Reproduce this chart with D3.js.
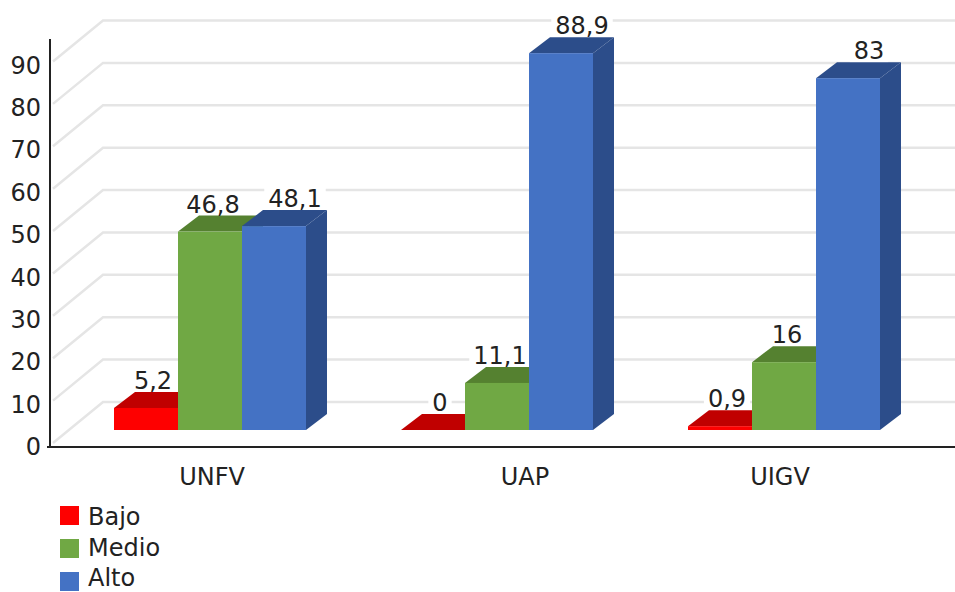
<!DOCTYPE html>
<html lang="es">

<head>
    <meta charset="UTF-8">
    <title>Bajo, Medio, Alto</title>
    <script src="https://d3js.org/d3.v7.min.js"></script>
    <style>
        html, body { margin: 0; padding: 0; background: #fff; }
        svg { display: block; }
        text { font-family: 'DejaVu Sans', Verdana, sans-serif; font-size: 24px; fill: #222; }
        .domain { display: none; }
    </style>
</head>

<body>
    <svg id="chart" width="955" height="592"></svg>
    <script>
        const categories = ["UNFV", "UAP", "UIGV"];
        const seriesNames = ["Bajo", "Medio", "Alto"];
        const bajo = [5.2, 0, 0.9];
        const medio = [46.8, 11.1, 16];
        const alto = [48.1, 88.9, 83];
        const yTicks = [0, 10, 20, 30, 40, 50, 60, 70, 80, 90];

        const seriesValues = [bajo, medio, alto];
        const frontColors = ["#fe0000", "#70a844", "#4472c4"];
        const darkColors = ["#c00000", "#558130", "#2c4d8a"];

        const fmt = v => String(v).replace(".", ",");
        const chart = d3.select("#chart");

        // bars stand on y = 430, the wall is further back, the axis further front
        const scaleY = d3.scaleLinear().domain([0, 90]).range([430, 48.5]);
        const groupX = d3.scalePoint().domain(categories).range([114, 688]);
        const barX = d3.scaleBand().domain(seriesNames).range([0, 192]);

        const depthX = 21, depthY = 16;
        const wallX = 103, wallDY = -28, floorX = 53, floorDY = 13;
        const axisX = 50, axisDY = 17;
        const labelShift = [7, 3, 21];
        const categoryLabelX = [212, 525, 780];

        // walls
        const grid = chart.append("g")
            .attr("fill", "none")
            .attr("stroke", "#e5e5e5")
            .attr("stroke-width", 2.5);
        grid.selectAll("path")
            .data(yTicks)
            .enter()
            .append("path")
            .attr("d", d => `M${floorX},${scaleY(d) + floorDY}L${wallX},${scaleY(d) + wallDY}L955,${scaleY(d) + wallDY}`);

        const halos = chart.append("g");

        // bars
        const bars = [];
        categories.forEach((c, i) => {
            seriesNames.forEach((s, j) => {
                bars.push({ category: c, series: j, name: s, value: seriesValues[j][i] });
            });
        });

        const bar = chart.append("g")
            .selectAll("g")
            .data(bars)
            .enter()
            .append("g")
            .attr("transform", d => `translate(${groupX(d.category) + barX(d.name)},0)`);

        const w = barX.bandwidth();
        bar.append("path")
            .attr("fill", d => darkColors[d.series])
            .attr("d", d => `M${w},${scaleY(d.value)}l${depthX},${-depthY}V${scaleY(0) - depthY}l${-depthX},${depthY}Z`);
        bar.append("path")
            .attr("fill", d => darkColors[d.series])
            .attr("d", d => `M0,${scaleY(d.value)}l${depthX},${-depthY}h${w}l${-depthX},${depthY}Z`);
        bar.append("rect")
            .attr("width", w)
            .attr("y", d => scaleY(d.value))
            .attr("height", d => scaleY(0) - scaleY(d.value))
            .attr("fill", d => frontColors[d.series]);

        // value labels
        const valueLabels = chart.append("g")
            .selectAll("text")
            .data(bars)
            .enter()
            .append("text")
            .attr("text-anchor", "middle")
            .attr("x", d => groupX(d.category) + barX(d.name) + w / 2 + labelShift[d.series])
            .attr("y", d => scaleY(d.value) - depthY - 3)
            .text(d => fmt(d.value));

        // white patch behind each label, it breaks the grid line
        valueLabels.each(function () {
            const b = this.getBBox();
            halos.append("rect")
                .attr("x", b.x - 4).attr("y", b.y + 2)
                .attr("width", b.width + 8).attr("height", b.height - 4)
                .attr("fill", "#fff");
        });

        // axes
        const yAxis = d3.axisLeft(scaleY).tickValues(yTicks).tickSize(0).tickPadding(9);
        const yAxisG = chart.append("g")
            .attr("transform", `translate(${axisX},${axisDY})`)
            .call(yAxis);
        yAxisG.selectAll("text").style("font-size", "24px");

        chart.append("line")
            .attr("x1", axisX).attr("x2", axisX)
            .attr("y1", 39).attr("y2", scaleY(0) + axisDY)
            .attr("stroke", "#222").attr("stroke-width", 2);
        chart.append("line")
            .attr("x1", axisX - 3).attr("x2", 955)
            .attr("y1", scaleY(0) + axisDY).attr("y2", scaleY(0) + axisDY)
            .attr("stroke", "#222").attr("stroke-width", 2);

        chart.append("g")
            .selectAll("text")
            .data(categories)
            .enter()
            .append("text")
            .attr("text-anchor", "middle")
            .attr("x", (d, i) => categoryLabelX[i])
            .attr("y", 485)
            .text(d => d);

        // legend
        const legendY = d3.scalePoint().domain(seriesNames).range([506, 572]);
        const legendTextY = d3.scalePoint().domain(seriesNames).range([525, 586]);
        chart.append("g")
            .selectAll("rect")
            .data(seriesNames)
            .enter()
            .append("rect")
            .attr("x", 60)
            .attr("y", d => legendY(d))
            .attr("width", 19)
            .attr("height", 19)
            .attr("fill", (d, i) => frontColors[i]);
        chart.append("g")
            .selectAll("text")
            .data(seriesNames)
            .enter()
            .append("text")
            .attr("x", 88)
            .attr("y", d => legendTextY(d))
            .text(d => d);
    </script>
</body>

</html>
